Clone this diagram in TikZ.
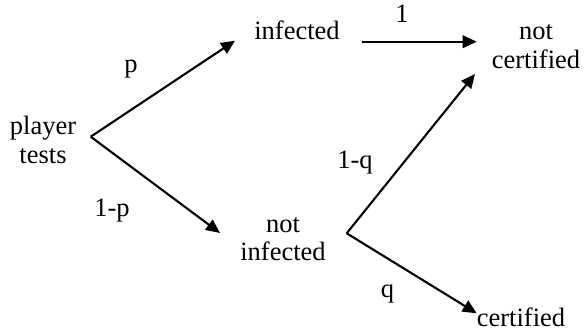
\documentclass[tikz,border=0pt]{standalone}
\usepackage{fontspec}
\setmainfont{Liberation Serif}
\usetikzlibrary{arrows.meta}
\begin{document}
\begin{tikzpicture}[x=1pt,y=-1pt,
  lbl/.style={inner sep=0pt,align=center,font=\fontsize{26.5}{28.5}\selectfont},
  conn/.style={line width=2.1pt,-{Triangle[length=14pt,width=12.5pt]}}]
\useasboundingbox (0,0) rectangle (584,333);
% state nodes
\node[lbl] (pt) at (43,140) {player\\tests};
\node[lbl] (inf) at (297,30.5) {infected};
\node[lbl] (ninf) at (283,239) {not\\infected};
\node[lbl] (ncert) at (536,46.5) {not\\certified};
\node[lbl] (cert) at (521,317) {certified};
% probability labels
\node[lbl,anchor=base] (lp) at (131,72) {p};
\node[lbl,anchor=base] (l1p) at (112,216) {1-p};
\node[lbl,anchor=base] (l1) at (402,22.7) {1};
\node[lbl,anchor=base] (l1q) at (355,168.3) {1-q};
\node[lbl,anchor=base] (lq) at (387.5,297) {q};
% branch points and arrow ends
\coordinate (v1) at (90.7,136.7);
\coordinate (v2) at (346.7,233.3);
\coordinate (tinf) at (235,40.7);
\coordinate (tninf) at (220,233);
\coordinate (sinf) at (361.7,41.7);
\coordinate (tnc1) at (476.7,41.7);
\coordinate (tnc2) at (475,74);
\coordinate (tcert) at (476.7,313.3);
% connectors
\draw[conn] (v1) -- (tinf);
\draw[conn] (v1) -- (tninf);
\draw[conn] (sinf) -- (tnc1);
\draw[conn] (v2) -- (tnc2);
\draw[conn] (v2) -- (tcert);
\end{tikzpicture}
\end{document}
